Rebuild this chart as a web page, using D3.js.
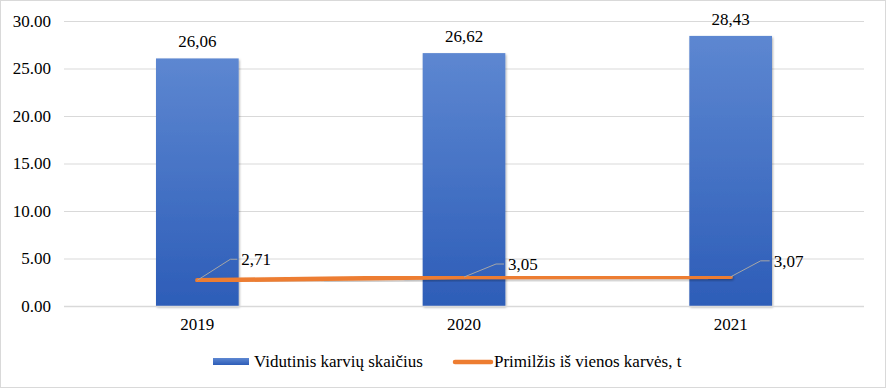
<!DOCTYPE html>
<html><head><meta charset="utf-8">
<script src="https://cdn.jsdelivr.net/npm/d3@7"></script>
<style>body{margin:0;background:#fff}svg{display:block}svg text{font-family:'Liberation Serif','Times New Roman',Times,'DejaVu Serif',serif !important;fill:#000}</style>
</head><body><svg id="c" width="886" height="388"></svg>
<script>
const years = ["2019","2020","2021"];
const cows = [26.06, 26.62, 28.43];
const milk = [2.71, 3.05, 3.07];
const yTicks = [0,5,10,15,20,25,30];
const seriesNames = ["Vidutinis karvių skaičius","Primilžis iš vienos karvės, t"];
const fmtComma = v => v.toFixed(2).replace(".", ",");

const svg = d3.select("#c");
const W=886,H=388, L=64, R=864, T=21, B=306;
const defs = svg.append("defs");
const g1 = defs.append("linearGradient").attr("id","bg").attr("x1",0).attr("y1",0).attr("x2",0).attr("y2",1);
g1.append("stop").attr("offset","0%").attr("stop-color","#5d87d1");
g1.append("stop").attr("offset","100%").attr("stop-color","#2d5db8");
const f = defs.append("filter").attr("id","sh").attr("x","-20%").attr("y","-20%").attr("width","140%").attr("height","160%");
f.append("feDropShadow").attr("dx",1).attr("dy",1.5).attr("stdDeviation",1.2).attr("flood-color","#000").attr("flood-opacity",0.3);

svg.append("rect").attr("x",0.5).attr("y",0.5).attr("width",W-1).attr("height",H-1).attr("fill","#fff").attr("stroke","#d9d9d9");

const x = d3.scaleBand().domain(years).range([L,R]).paddingInner(0.69).paddingOuter(0.345);
const y = d3.scaleLinear().domain([0,30]).range([B,T]);
const cx = d => x(d)+x.bandwidth()/2;

svg.append("g").selectAll("line").data(yTicks).join("line")
  .attr("x1",L).attr("x2",R).attr("y1",d=>y(d)+0.5).attr("y2",d=>y(d)+0.5)
  .attr("stroke","#d9d9d9").attr("stroke-width",1);

const ya = svg.append("g").attr("transform",`translate(${L-13},0)`)
  .call(d3.axisLeft(y).tickValues(yTicks).tickFormat(d=>d.toFixed(2)).tickSize(0).tickPadding(0));
ya.select(".domain").remove();
ya.attr("font-family",null).attr("font-size",null);
ya.selectAll("text").style("font-size","17px").attr("fill","#000");

svg.append("g").selectAll("rect").data(years).join("rect")
  .attr("x",d=>x(d)).attr("width",x.bandwidth())
  .attr("y",(d,i)=>y(cows[i])).attr("height",(d,i)=>B-y(cows[i]))
  .attr("fill","url(#bg)").attr("filter","url(#sh)");

svg.append("line").attr("x1",L).attr("x2",R).attr("y1",B+0.5).attr("y2",B+0.5).attr("stroke","#d9d9d9").attr("stroke-width",1.5);
const xa = svg.append("g").attr("transform",`translate(0,${B})`)
  .call(d3.axisBottom(x).tickSize(0).tickPadding(12));
xa.select(".domain").remove();
xa.attr("font-family",null).attr("font-size",null);
xa.selectAll("text").style("font-size","17px").attr("fill","#000");

svg.append("g").selectAll("text").data(years).join("text")
  .attr("x",d=>cx(d)).attr("y",(d,i)=>y(cows[i])-11)
  .attr("text-anchor","middle").style("font-size","17px").text((d,i)=>fmtComma(cows[i]));

const line = d3.line().x(d=>cx(d[0])).y(d=>y(d[1]));
svg.append("path").datum(years.map((d,i)=>[d,milk[i]])).attr("d",line)
  .attr("fill","none").attr("stroke","#ed7d31").attr("stroke-width",4.5).attr("stroke-linecap","round")
  .attr("filter","url(#sh)");

const leadOff = [[33,-21,7],[32,-13,8],[30,-16,9]];
const lg = svg.append("g");
years.forEach((d,i)=>{
  const px=cx(d), py=y(milk[i]);
  const [dx,dy,hx]=leadOff[i];
  lg.append("polyline").attr("points",`${px},${py} ${px+dx},${py+dy} ${px+dx+hx},${py+dy}`)
    .attr("fill","none").attr("stroke","#a6a6a6").attr("stroke-width",1);
  lg.append("text").attr("x",px+dx+hx+4).attr("y",py+dy+6).style("font-size","17px").text(fmtComma(milk[i]));
});

const leg = svg.append("g");
leg.append("rect").attr("x",213).attr("y",358).attr("width",36).attr("height",7).attr("fill","url(#bg)");
leg.append("text").attr("x",254).attr("y",367).style("font-size","17px").text(seriesNames[0]);
leg.append("line").attr("x1",455).attr("x2",491).attr("y1",362).attr("y2",362).attr("stroke","#ed7d31").attr("stroke-width",4.5).attr("stroke-linecap","round");
leg.append("text").attr("x",494).attr("y",367).style("font-size","17px").text(seriesNames[1]);
</script></body></html>
